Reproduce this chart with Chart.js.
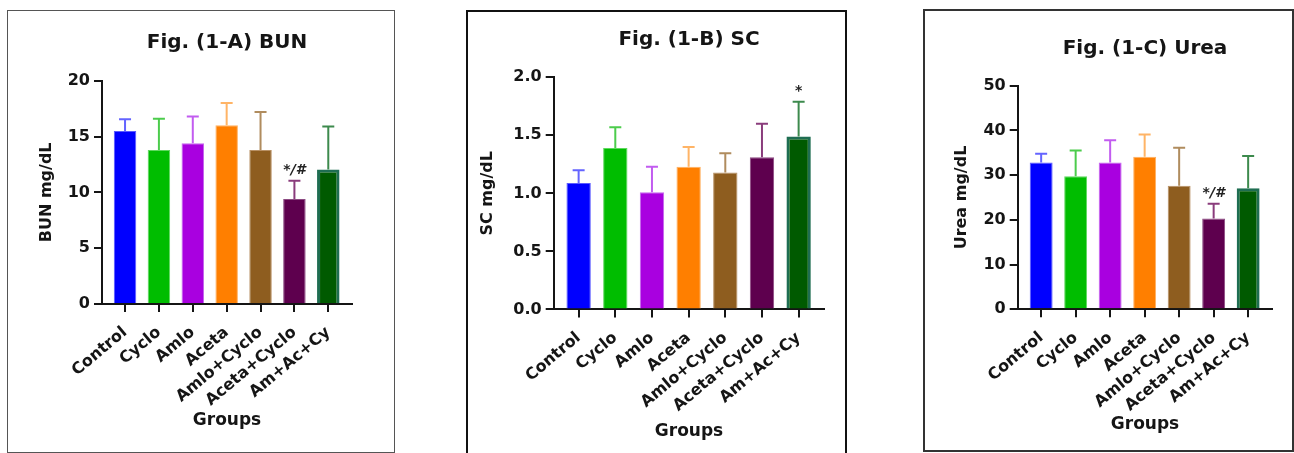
<!DOCTYPE html>
<html>
<head>
<meta charset="utf-8">
<script src="https://cdn.jsdelivr.net/npm/chart.js@4.4.1/dist/chart.umd.min.js"></script>
<style>
  html, body { margin: 0; padding: 0; background: #fff; }
  body { width: 1294px; height: 453px; position: relative; overflow: hidden; }
  canvas { position: absolute; }
  .frame { position: absolute; box-sizing: border-box; pointer-events: none; }
</style>
</head>
<body>
<canvas id="cA" width="387" height="442" style="left:7px;top:10px"></canvas>
<canvas id="cB" width="380" height="443" style="left:467px;top:11px"></canvas>
<canvas id="cC" width="369" height="442" style="left:924px;top:10px"></canvas>
<div class="frame" style="left:7px;top:10px;width:388px;height:443px;border:1.5px solid #555"></div>
<div class="frame" style="left:466px;top:10px;width:381px;height:450px;border:2px solid #111"></div>
<div class="frame" style="left:923px;top:9px;width:371px;height:443px;border:2px solid #333"></div>
<script>
const categories = ['Control', 'Cyclo', 'Amlo', 'Aceta', 'Amlo+Cyclo', 'Aceta+Cyclo', 'Am+Ac+Cy'];

const bunMean = [15.5, 13.8, 14.4, 16.0, 13.8, 9.4, 12.05];
const bunSD   = [1.05, 2.8, 2.4, 2.0, 3.4, 1.65, 3.85];
const bunMarks = ['', '', '', '', '', '*/#', ''];
const bunTicks = [0, 5, 10, 15, 20];

const scMean = [1.09, 1.39, 1.01, 1.23, 1.18, 1.31, 1.49];
const scSD   = [0.11, 0.18, 0.22, 0.17, 0.165, 0.29, 0.30];
const scMarks = ['', '', '', '', '', '', '*'];
const scTicks = [0, 0.5, 1.0, 1.5, 2.0];

const ureaMean = [32.8, 29.75, 32.8, 34.1, 27.65, 20.3, 27.05];
const ureaSD   = [2.0, 5.75, 5.0, 5.0, 8.5, 3.3, 7.25];
const ureaMarks = ['', '', '', '', '', '*/#', ''];
const ureaTicks = [0, 10, 20, 30, 40, 50];

const barColors  = ['#0000ff', '#00bd00', '#a900e0', '#ff7f00', '#8e5d1f', '#5e004e', '#005a00'];
const barBorders = ['#5a5aff', '#5ed85e', '#c466ee', '#ffb060', '#b89064', '#8c4a82', '#1f6e52'];
const barBorderW = [1, 1, 1, 1, 1, 1, 3];
const errColors  = ['#6464ff', '#4ccc4c', '#c25cf0', '#ffb466', '#b08c5e', '#8a3c7c', '#3d8a4d'];

const F = 'DejaVu Sans';
const INK = '#151515';

const errorBarPlugin = {
  id: 'errorBars',
  afterDatasetsDraw(chart, args, opts) {
    const { ctx } = chart;
    const x = chart.scales.x, y = chart.scales.y;
    ctx.save();
    opts.means.forEach((m, i) => {
      const px = x.getPixelForValue(i);
      const y0 = y.getPixelForValue(m);
      const y1 = y.getPixelForValue(m + opts.sds[i]);
      ctx.strokeStyle = errColors[i];
      ctx.lineWidth = 2;
      ctx.beginPath();
      ctx.moveTo(px, y0);
      ctx.lineTo(px, y1);
      ctx.moveTo(px - 6, y1);
      ctx.lineTo(px + 6, y1);
      ctx.stroke();
      if (opts.marks[i]) {
        ctx.fillStyle = '#222';
        ctx.font = 'bold italic 14px "DejaVu Sans"';
        ctx.textAlign = 'center';
        ctx.textBaseline = 'bottom';
        ctx.fillText(opts.marks[i], px, y1 - 3);
      }
    });
    ctx.restore();
  }
};

function makeChart(id, p) {
  const axisBorder = { display: true, color: INK, width: 2 };
  new Chart(document.getElementById(id), {
    type: 'bar',
    data: {
      datasets: [{
        data: p.means.map((v, i) => ({ x: i, y: v })),
        backgroundColor: barColors,
        borderColor: barBorders,
        borderWidth: barBorderW,
        categoryPercentage: 0.8,
        barPercentage: 0.83
      }]
    },
    options: {
      responsive: false,
      animation: false,
      events: [],
      layout: { padding: { left: 0, right: p.padR, top: 0, bottom: p.padB } },
      plugins: {
        legend: { display: false },
        tooltip: { enabled: false },
        title: {
          display: true, text: p.title, fullSize: false, color: INK,
          font: { family: F, size: 20, weight: 'bold' },
          padding: { top: p.tTop, bottom: p.tBot }
        },
        errorBars: { means: p.means, sds: p.sds, marks: p.marks }
      },
      scales: {
        x: {
          type: 'linear', min: -0.68, max: 6.7, offset: false,
          afterBuildTicks: s => { s.ticks = categories.map((c, i) => ({ value: i })); },
          afterFit: s => { s.height = p.xH; },
          ticks: {
            autoSkip: false, minRotation: 40, maxRotation: 40, color: INK, padding: 11,
            font: { family: F, size: 16, weight: 'bold' },
            callback: v => categories[v]
          },
          grid: { offset: false, drawOnChartArea: false, drawTicks: true, tickLength: 8, color: INK, lineWidth: 2 },
          border: axisBorder,
          title: {
            display: true, text: 'Groups', color: INK,
            font: { family: F, size: 17, weight: 'bold' },
            padding: { top: 0, bottom: 0 }
          }
        },
        y: {
          min: p.yTicks[0], max: p.yTicks[p.yTicks.length - 1],
          afterBuildTicks: s => { s.ticks = p.yTicks.map(v => ({ value: v })); },
          afterFit: s => { s.width = p.yW; },
          ticks: {
            color: INK, padding: 4,
            font: { family: F, size: 16, weight: 'bold' },
            callback: v => p.fmt(v)
          },
          grid: { drawOnChartArea: false, drawTicks: true, tickLength: 8, color: INK, lineWidth: 2 },
          border: axisBorder,
          title: {
            display: true, text: p.yTitle, color: INK,
            font: { family: F, size: 16, weight: 'bold' },
            padding: { top: p.yTP, bottom: 0 }
          }
        }
      }
    },
    plugins: [errorBarPlugin]
  });
}

makeChart('cA', {
  title: 'Fig. (1-A) BUN', yTitle: 'BUN mg/dL',
  means: bunMean, sds: bunSD, marks: bunMarks, yTicks: bunTicks, fmt: v => String(v),
  padR: 42, padB: 21, tTop: 21, tBot: 25.7, yW: 95, yTP: 30, xH: 127
});
makeChart('cB', {
  title: 'Fig. (1-B) SC', yTitle: 'SC mg/dL',
  means: scMean, sds: scSD, marks: scMarks, yTicks: scTicks, fmt: v => v.toFixed(1),
  padR: 22.7, padB: 12, tTop: 17, tBot: 25.3, yW: 86.7, yTP: 11.4, xH: 132.6
});
makeChart('cC', {
  title: 'Fig. (1-C) Urea', yTitle: 'Urea mg/dL',
  means: ureaMean, sds: ureaSD, marks: ureaMarks, yTicks: ureaTicks, fmt: v => String(v),
  padR: 20.7, padB: 16.8, tTop: 27, tBot: 24.7, yW: 93.7, yTP: 28.1, xH: 125.9
});
</script>
</body>
</html>
